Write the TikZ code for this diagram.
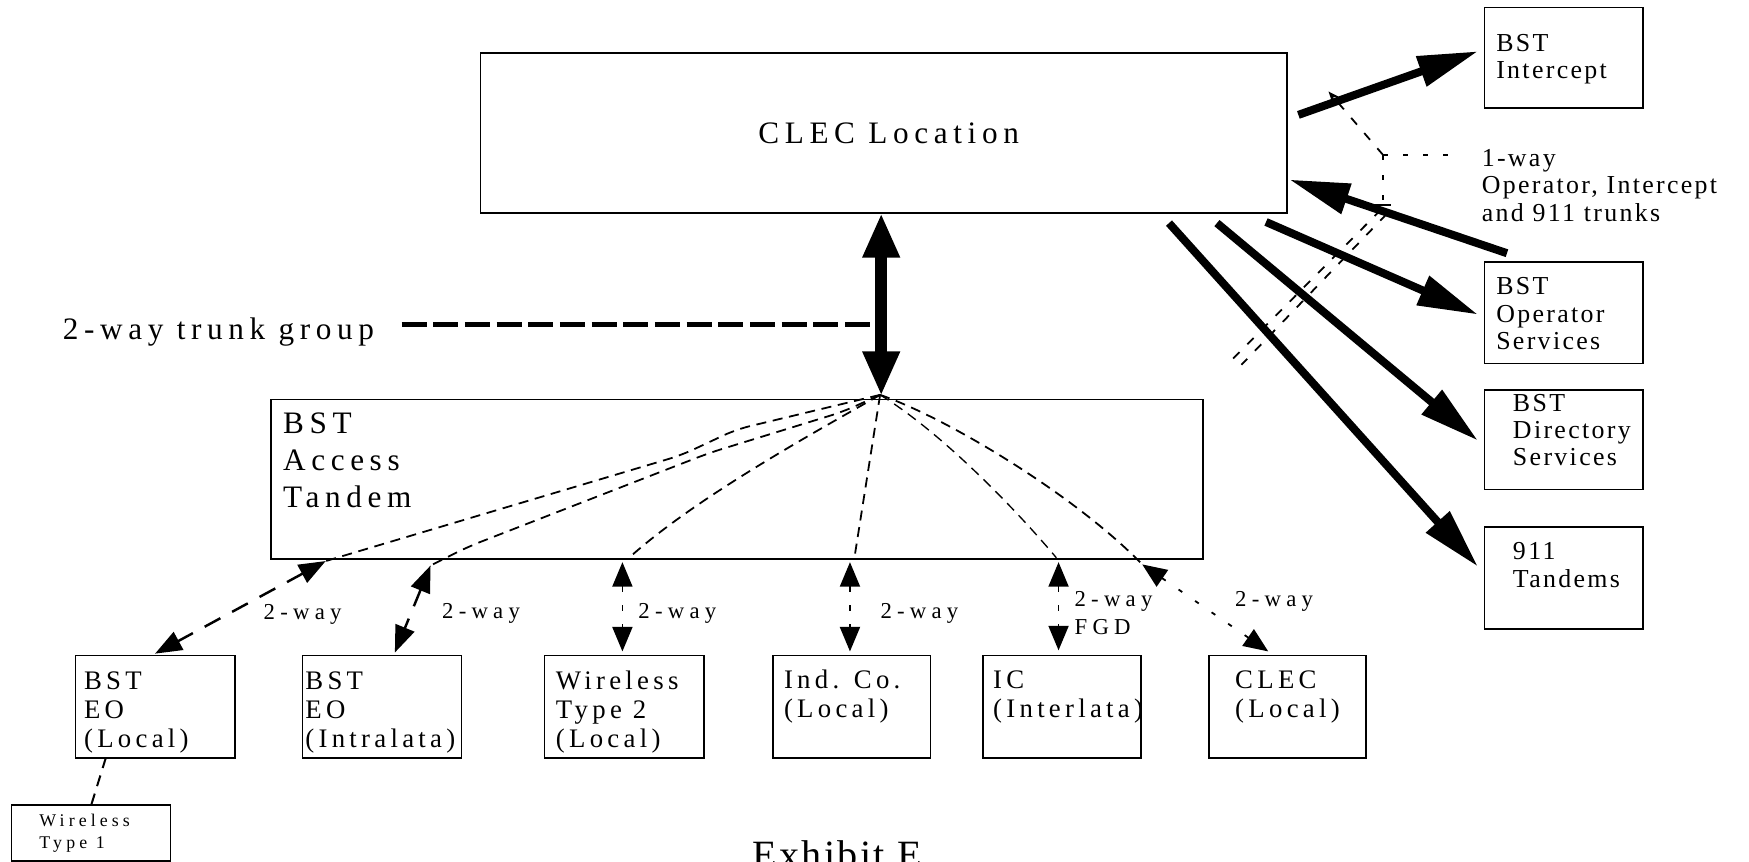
\documentclass[tikz,border=0pt]{standalone}
\usepackage{fontspec}
\setmainfont{Liberation Serif}
\newfontfamily\fBig[LetterSpace=18]{Liberation Serif}
\newfontfamily\fBot[LetterSpace=16]{Liberation Serif}
\newfontfamily\fRt[LetterSpace=9]{Liberation Serif}
\newfontfamily\fLbl[LetterSpace=23]{Liberation Serif}
\newfontfamily\fEx[LetterSpace=6]{Liberation Serif}
\usetikzlibrary{arrows.meta}
\newcommand\stk[1]{\begin{tabular}[t]{@{}l@{}}#1\end{tabular}}
\begin{document}
\begin{tikzpicture}[x=0.5pt,y=-0.5pt,
  box/.style={draw, line width=0.75pt, inner sep=0pt, anchor=north west},
  txt/.style={anchor=base west, inner sep=0pt},
  big/.style={txt, font=\fBig\fontsize{14pt}{16.6pt}\selectfont},
  bot/.style={txt, font=\fBot\fontsize{12pt}{13pt}\selectfont},
  rt/.style={txt, font=\fRt\fontsize{11.6pt}{12.2pt}\selectfont},
  lbl/.style={txt, font=\fLbl\fontsize{10.2pt}{12.5pt}\selectfont},
  small/.style={txt, font=\fLbl\fontsize{8pt}{9.8pt}\selectfont},
  exh/.style={txt, font=\fEx\fontsize{18pt}{20pt}\selectfont},
  fat/.style={line width=3.6pt, -{Triangle[length=27pt,width=13.5pt]}},
  vdbl/.style={line width=5.5pt, {Triangle[length=20pt,width=15.5pt]}-{Triangle[length=20pt,width=15.5pt]}},
  hubline/.style={line width=0.8pt, dash pattern=on 4.5pt off 3pt},
  lowdash/.style={line width=1.1pt, dash pattern=on 8pt off 6pt, {Triangle[length=12pt,width=9pt]}-{Triangle[length=12pt,width=9pt]}},
  lowdot/.style={line width=0.8pt, dash pattern=on 2.5pt off 6pt, {Triangle[length=11pt,width=9pt]}-{Triangle[length=11pt,width=9pt]}},
  trunkline/.style={line width=1.9pt, dash pattern=on 11.2pt off 3pt},
  noteline/.style={line width=0.6pt, dash pattern=on 2pt off 7pt},
  scrib/.style={line width=0.8pt, dash pattern=on 4pt off 5pt},
  linkline/.style={line width=0.9pt, dash pattern=on 5pt off 3.5pt}
]
\useasboundingbox (0,0) rectangle (1568,772);
% boxes
\node[box, minimum width=361.5pt, minimum height=71.5pt] (clec) at (430,47) {};
\node[box, minimum width=71pt, minimum height=45pt] (icpt) at (1330,6) {};
\node[box, minimum width=71pt, minimum height=45.5pt] (opsv) at (1330,234) {};
\node[box, minimum width=71pt, minimum height=44.5pt] (dirs) at (1330,349) {};
\node[box, minimum width=71pt, minimum height=45.5pt] (tnd) at (1330,472) {};
\node[box, minimum width=418pt, minimum height=71.5pt] (tand) at (242,357.5) {};
\node[box, minimum width=71.5pt, minimum height=45.75pt] (eoL) at (67,587) {};
\node[box, minimum width=71.25pt, minimum height=45.75pt] (eoI) at (270.5,587) {};
\node[box, minimum width=71.5pt, minimum height=45.75pt] (wl2) at (487.5,587) {};
\node[box, minimum width=70.75pt, minimum height=45.75pt] (ind) at (692,587) {};
\node[box, minimum width=70.75pt, minimum height=45.75pt] (ic) at (880.5,587) {};
\node[box, minimum width=70.5pt, minimum height=45.75pt] (clecL) at (1083,587) {};
\node[box, minimum width=71.15pt, minimum height=25.15pt] (wl1) at (9.7,720.7) {};
% texts
\node[big] (clecT) at (679.5,128.5) {CLEC Location};
\node[big] (trunkT) at (56,304) {2-way trunk group};
\node[big] (tandT) at (253.4,388.4) {\stk{BST\\Access\\Tandem}};
\node[rt] (icptT) at (1341,46.3) {\stk{BST\\Intercept}};
\node[rt] (opsvT) at (1341,264.4) {\stk{BST\\Operator\\Services}};
\node[rt] (dirsT) at (1356,368.5) {\stk{BST\\Directory\\Services}};
\node[rt] (tndT) at (1356,502) {\stk{911\\Tandems}};
\node[rt] (noteT) at (1328,149.4) {\stk{1-way\\Operator, Intercept\\and 911 trunks}};
\node[bot] (eoLT) at (75,618) {\stk{BST\\EO\\(Local)}};
\node[bot] (eoIT) at (273.4,618) {\stk{BST\\EO\\(Intralata)}};
\node[bot] (wl2T) at (498,618) {\stk{Wireless\\Type 2\\(Local)}};
\node[bot] (indT) at (702.5,617) {\stk{Ind. Co.\\(Local)}};
\node[bot] (icT) at (890,617) {\stk{IC\\(Interlata)}};
\node[bot] (clecLT) at (1107,617) {\stk{CLEC\\(Local)}};
\node[small] (wl1T) at (35,741) {\stk{Wireless\\Type 1}};
\node[lbl] (la) at (236,555.8) {2-way};
\node[lbl] (lb) at (396,554.3) {2-way};
\node[lbl] (lc) at (572,554.3) {2-way};
\node[lbl] (ld) at (789,554.3) {2-way};
\node[lbl] (le) at (963,544) {\stk{2-way\\FGD}};
\node[lbl] (lf) at (1107,544) {2-way};
\node[exh] (exT) at (674,778.5) {Exhibit E};
% coordinates
\coordinate (hub) at (789,354);
\coordinate (vTop) at (790,191);
\coordinate (vBot) at (790,355);
\coordinate (tg1) at (360,291);
\coordinate (tg2) at (787,291);
\coordinate (ia) at (1164,103);  \coordinate (ib) at (1325,46);
\coordinate (oia) at (1351,227); \coordinate (oib) at (1156,161);
\coordinate (ooa) at (1135,199); \coordinate (oob) at (1325,282);
\coordinate (da) at (1091,200);  \coordinate (db) at (1325,395);
\coordinate (na) at (1048,200);  \coordinate (nb) at (1325,508);
\coordinate (a1) at (292,503); \coordinate (a2) at (139,586);
\coordinate (b1) at (386,507); \coordinate (b2) at (354,585);
\coordinate (c1) at (564,500); \coordinate (c2) at (558,504); \coordinate (c3) at (558,584);
\coordinate (d1) at (766,500); \coordinate (d2) at (762,504); \coordinate (d3) at (762,584);
\coordinate (e1) at (947,500); \coordinate (e2) at (949,504); \coordinate (e3) at (949,583);
\coordinate (f1) at (1024,506); \coordinate (f2) at (1137,584);
\coordinate (w1) at (95,679); \coordinate (w2) at (82,721);
\coordinate (nj) at (1240,139); \coordinate (nl) at (1310,139);
\coordinate (nd) at (1240,185); \coordinate (nt) at (1191,82);
\coordinate (s1) at (1238,188); \coordinate (s2) at (1100,327);
\coordinate (s3) at (1243,192); \coordinate (s4) at (1113,327);
% main links
\draw[vdbl] (vTop) -- (vBot);
\draw[trunkline] (tg1) -- (tg2);
\draw[fat] (ia) -- (ib);
\draw[fat] (oia) -- (oib);
\draw[fat] (ooa) -- (oob);
\draw[fat] (da) -- (db);
\draw[fat] (na) -- (nb);
% hub fan
\draw[hubline, rounded corners=6pt] (hub) -- (660,385) -- (611,408) -- (a1);
\draw[hubline, rounded corners=6pt] (hub) -- (756,369) -- (636,406) -- (420,490) -- (b1);
\draw[hubline] (hub) .. controls (735,385) and (625,445) .. (c1);
\draw[hubline] (hub) -- (d1);
\draw[hubline, line width=0.6pt] (hub) .. controls (840,385) and (905,450) .. (e1);
\draw[hubline] (hub) .. controls (850,375) and (965,445) .. (f1);
% lower links
\draw[lowdash] (a1) -- (a2);
\draw[lowdash] (b1) -- (b2);
\draw[lowdot] (c2) -- (c3);
\draw[lowdot] (d2) -- (d3);
\draw[lowdot] (e2) -- (e3);
\draw[lowdot, dash pattern=on 2pt off 7pt] (f1) -- (f2);
\draw[linkline] (w1) -- (w2);
% note scribbles
\draw[noteline] (nj) -- (nl);
\draw[noteline] (nj) -- (nd);
\draw[scrib, -{Stealth[length=5pt,width=4pt]}] (nj) -- (nt);
\draw[line width=0.8pt] (1233,184) -- (1247,184);
\draw[scrib] (s1) -- (s2);
\draw[scrib] (s3) -- (s4);
\end{tikzpicture}
\end{document}
